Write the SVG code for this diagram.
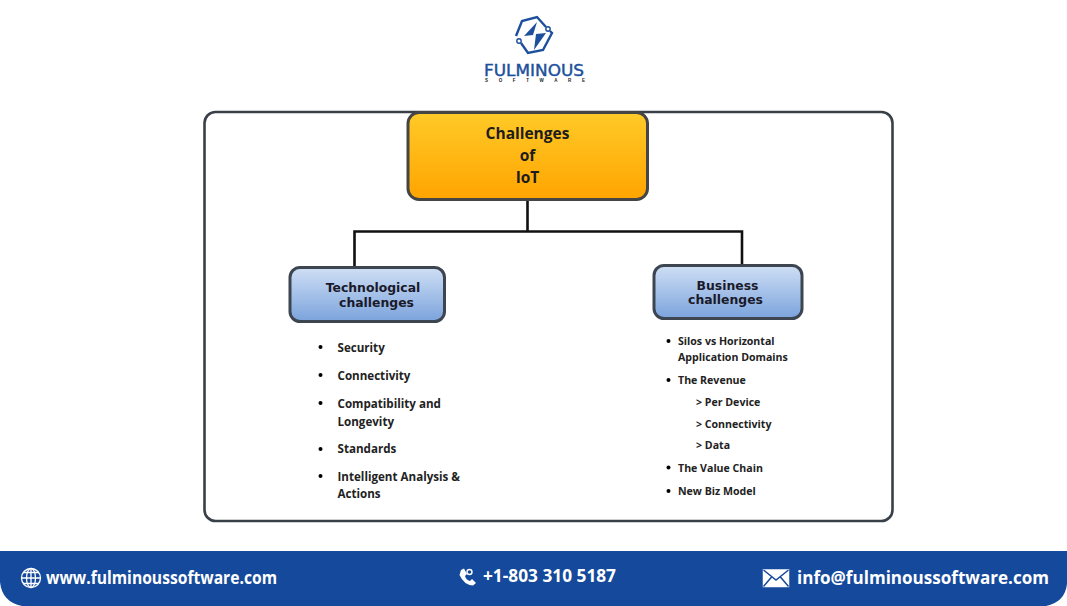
<svg xmlns="http://www.w3.org/2000/svg" width="1067" height="606" viewBox="0 0 1067 606">
<style>
text{font-family:"Open Sans","Noto Sans","DejaVu Sans",sans-serif;font-weight:700;fill:#222}
.head{font-size:15.5px;fill:#1c1c1c}
.sub{font-family:"DejaVu Sans",sans-serif;font-size:12.4px;fill:#1a1a2a}
.item{font-size:11.6px}
.bitem{font-size:10.6px}
.foot{font-size:17px;fill:#fff}
.link{fill:none;stroke:#111;stroke-width:2.6}
.blue{fill:url(#blueFill);stroke:#3d4650;stroke-width:3}
.mark{fill:none;stroke:#1c4f9c;stroke-width:2.4}
</style>
<defs>
<linearGradient id="goldFill" x1="0" y1="0" x2="0" y2="1"><stop offset="0" stop-color="#ffca28"/><stop offset="1" stop-color="#ffa400"/></linearGradient>
<linearGradient id="blueFill" x1="0" y1="0" x2="0" y2="1"><stop offset="0" stop-color="#cfdff5"/><stop offset="1" stop-color="#7ba3dc"/></linearGradient>
</defs>
<rect width="1067" height="606" fill="#fff"/>

<!-- brand mark -->
<g id="logo">
<path class="mark" d="M546 27 L537 17 L522 21 L516 36"/>
<path class="mark" d="M521 43 L528 53 L543 50 L552 33 L550 31"/>
<circle cx="548" cy="29" r="2.200" fill="none" stroke="#1c4f9c" stroke-width="1.400"/>
<circle cx="519" cy="41" r="2.200" fill="none" stroke="#1c4f9c" stroke-width="1.400"/>
<path d="M537 22 L524 36 L533 35 Z M546 33 L534 50 L536 34 Z" fill="#1c4f9c"/>
<text x="484" y="76" textLength="100" lengthAdjust="spacingAndGlyphs" style="font-family:'DejaVu Sans',sans-serif;font-size:15px;font-weight:400;fill:#1c4f9c;stroke:#1c4f9c;stroke-width:.4">FULMINOUS</text>
<text x="485" y="82" textLength="100" style="font-family:'Liberation Sans',sans-serif;font-size:4.500px;fill:#222">SOFTWARE</text>
</g>

<!-- outer frame -->
<rect id="frame" x="204.500" y="112" width="688" height="409" rx="11" fill="#fff" stroke="#3a4048" stroke-width="2.600"/>

<g id="connectors">
<path class="link" d="M527.500 199 V231.500 M354.500 267 V231.500 H742 V265"/>
</g>

<g id="root">
<rect x="408" y="112.500" width="239.500" height="87" rx="11" fill="url(#goldFill)" stroke="#454545" stroke-width="3"/>
<text class="head" x="527.500" y="139" text-anchor="middle">Challenges</text>
<text class="head" x="527.500" y="161" text-anchor="middle">of</text>
<text class="head" x="527.500" y="183" text-anchor="middle">IoT</text>
</g>

<g id="tech">
<rect class="blue" x="290" y="267.500" width="154.500" height="54" rx="10"/>
<text class="sub" x="373" y="292" text-anchor="middle">Technological</text>
<text class="sub" x="376.500" y="307" text-anchor="middle">challenges</text>
</g>

<g id="biz">
<rect class="blue" x="654" y="265.500" width="148" height="53" rx="10"/>
<text class="sub" x="727.500" y="290" text-anchor="middle">Business</text>
<text class="sub" x="725.500" y="304" text-anchor="middle">challenges</text>
</g>

<g id="tech-list">
<circle cx="320.500" cy="347" r="2"/><text class="item" x="337.500" y="351.500">Security</text>
<circle cx="320.500" cy="375" r="2"/><text class="item" x="337.500" y="379.500">Connectivity</text>
<circle cx="320.500" cy="403" r="2"/><text class="item" x="337.500" y="407.500">Compatibility and</text>
<text class="item" x="337.500" y="425.500">Longevity</text>
<circle cx="320.500" cy="449" r="2"/><text class="item" x="337.500" y="453">Standards</text>
<circle cx="320.500" cy="476" r="2"/><text class="item" x="337.500" y="480.500">Intelligent Analysis &amp;</text>
<text class="item" x="337.500" y="497.500">Actions</text>
</g>

<g id="biz-list">
<circle cx="668.500" cy="341" r="2"/><text class="bitem" x="678" y="345">Silos vs Horizontal</text>
<text class="bitem" x="678" y="361">Application Domains</text>
<circle cx="668.500" cy="380" r="2"/><text class="bitem" x="678" y="384">The Revenue</text>
<text class="bitem" x="696" y="406">&gt; Per Device</text>
<text class="bitem" x="696" y="427.500">&gt; Connectivity</text>
<text class="bitem" x="696" y="449">&gt; Data</text>
<circle cx="668.500" cy="467.500" r="2"/><text class="bitem" x="678" y="471.500">The Value Chain</text>
<circle cx="668.500" cy="491" r="2"/><text class="bitem" x="678" y="495">New Biz Model</text>
</g>

<!-- contact bar -->
<g id="footer">
<path d="M0 551 H1067 V584 Q1065 602 1046 606 H22 Q2 602 0 582 Z" fill="#15499b"/>
<g fill="none" stroke="#fff" stroke-width="1.300">
<circle cx="31" cy="578" r="9.500"/>
<ellipse cx="31" cy="578" rx="4.500" ry="9.500"/>
<path d="M31 568.500 V587.500 M21.500 578 H40.500 M23 572.500 H39 M23 583.500 H39"/>
</g>
<text class="foot" x="46" y="584" textLength="231" lengthAdjust="spacingAndGlyphs">www.fulminoussoftware.com</text>
<path d="M461 570 L464 568.500 L467 574 L465 576 Q466 580 470 581 L472 579 L476 583 L473 585.500 Q464 585 459.500 575 Z" fill="#fff"/>
<circle cx="469.500" cy="572" r="2.500" fill="none" stroke="#fff" stroke-width="1.400"/>
<text class="foot" x="483" y="582" textLength="133" lengthAdjust="spacingAndGlyphs">+1-803 310 5187</text>
<g fill="none" stroke="#fff" stroke-width="1.500">
<rect x="763.500" y="570" width="25" height="16.500" fill="#fff"/>
<path d="M763.500 570 L776 580 L788.500 570 M763.500 586.500 L772 576.500 M788.500 586.500 L780 576.500" stroke="#15499b"/>
</g>
<text class="foot" x="797" y="584" textLength="252" lengthAdjust="spacingAndGlyphs">info@fulminoussoftware.com</text>
</g>
</svg>
